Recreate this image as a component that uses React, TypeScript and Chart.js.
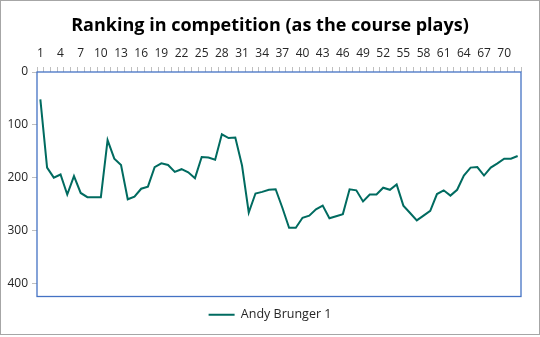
import React, { useEffect, useRef } from "react";
import { Chart, registerables } from "chart.js";

Chart.register(...registerables);

const categories: string[] = Array.from({ length: 72 }, (_, i) => String(i + 1));
const seriesName = "Andy Brunger 1";
const ranking: number[] = [
  52, 181, 200, 194, 232, 197, 229, 237, 237, 237,
  129, 164, 176, 241, 236, 221, 217, 180, 173, 176,
  189, 184, 190, 201, 161, 162, 166, 118, 125, 124,
  177, 266, 230, 227, 223, 222, 257, 295, 295, 276,
  272, 260, 253, 277, 273, 269, 222, 224, 245, 232,
  232, 219, 223, 213, 253, 267, 281, 272, 263, 231,
  224, 234, 223, 196, 181, 180, 196, 181, 173, 164,
  164, 159,
];
const yTicks: number[] = [0, 100, 200, 300, 400];

const FONT = "'Open Sans', 'Noto Sans', sans-serif";

const framePlugin = {
  id: "frame",
  afterDraw(chart: any) {
    const { ctx, chartArea } = chart;
    ctx.save();
    ctx.strokeStyle = "#4472C4";
    ctx.lineWidth = 1.3;
    ctx.strokeRect(chartArea.left, chartArea.top, chartArea.right - chartArea.left, chartArea.bottom - chartArea.top);
    ctx.strokeStyle = "#A6A6A6";
    ctx.lineWidth = 1;
    ctx.strokeRect(0.5, 0.5, chart.width - 1, 334);
    ctx.restore();
  },
};

export default function App() {
  const ref = useRef<HTMLCanvasElement | null>(null);
  useEffect(() => {
    document.body.style.margin = "0";
    if (!ref.current) return;
    const chart = new Chart(ref.current, {
      type: "line",
      data: {
        labels: categories,
        datasets: [
          {
            label: seriesName,
            data: ranking,
            borderColor: "#006B60",
            backgroundColor: "#006B60",
            borderWidth: 2,
            pointRadius: 0,
            tension: 0,
          },
        ],
      },
      options: {
        animation: false,
        responsive: false,
        layout: { padding: { left: 0, right: 0, top: 0, bottom: 6 } },
        plugins: {
          title: {
            display: true,
            text: "Ranking in competition (as the course plays)",
            color: "#000",
            font: { family: FONT, size: 18, weight: "bold" },
            padding: { top: 15, bottom: 0 },
          },
          legend: {
            position: "bottom",
            labels: {
              usePointStyle: true,
              pointStyle: "line",
              pointStyleWidth: 26,
              color: "#262626",
              font: { family: FONT, size: 12.5 },
              padding: 12,
            },
          },
          tooltip: { enabled: false },
        },
        scales: {
          x: {
            position: "top",
            offset: true,
            grid: { drawOnChartArea: false, drawTicks: true, tickLength: 5, color: "#BFBFBF", offset: true },
            border: { display: false },
            ticks: {
              autoSkip: false,
              maxRotation: 0,
              color: "#262626",
              font: { family: FONT, size: 12 },
              padding: 6,
              callback: (_v: any, i: number) => (i % 3 === 0 ? categories[i] : ""),
            },
            afterFit: (s: any) => { s.height = 35.4; },
          },
          y: {
            reverse: true,
            min: 0,
            max: 425,
            afterBuildTicks: (s: any) => { s.ticks = yTicks.map((v) => ({ value: v })); },
            grid: { drawOnChartArea: false, drawTicks: true, tickLength: 5, color: "#BFBFBF" },
            border: { display: false },
            ticks: { color: "#262626", font: { family: FONT, size: 12 }, padding: 4 },
            afterFit: (s: any) => { s.width = 37; },
          },
          yRight: {
            position: "right",
            display: true,
            grid: { display: false },
            border: { display: false },
            ticks: { display: false },
            afterFit: (s: any) => { s.width = 19; },
          },
        },
      },
      plugins: [framePlugin],
    });
    return () => chart.destroy();
  }, []);
  return (
    <div style={{ width: 540, height: 337 }}>
      <canvas ref={ref} width={540} height={337} style={{ display: "block" }} />
    </div>
  );
}
